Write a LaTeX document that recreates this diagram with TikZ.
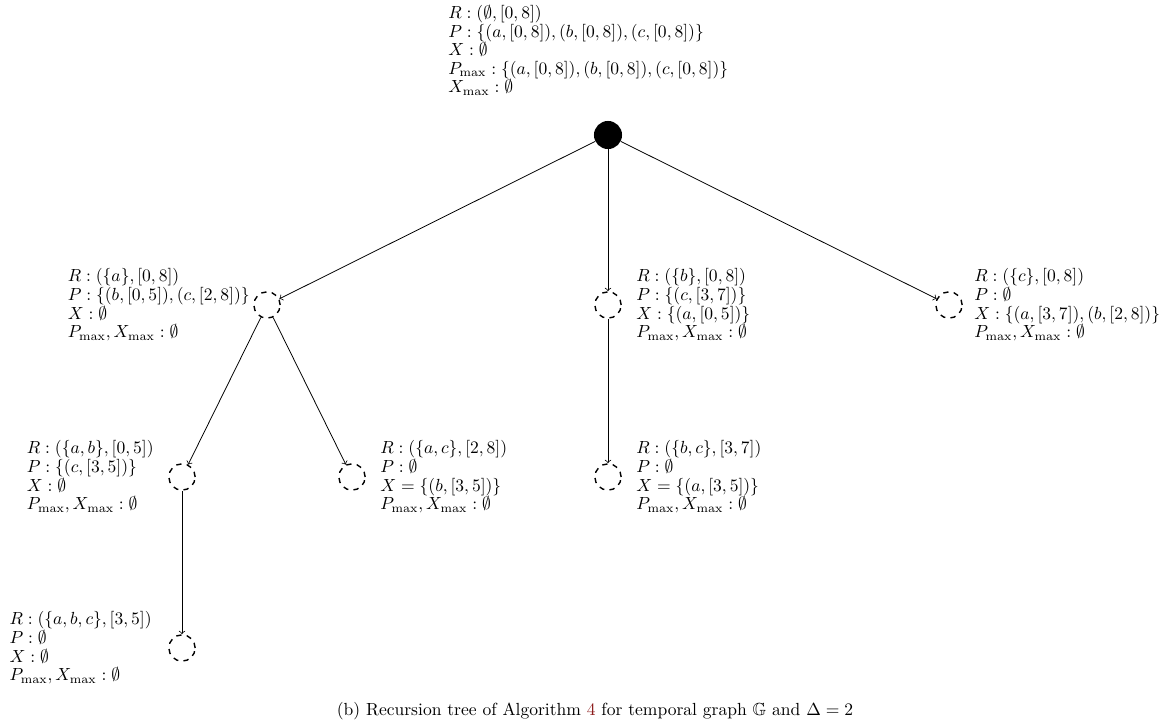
\documentclass[tikz,border=0pt]{standalone}
\usepackage{amsmath,amssymb}
\usetikzlibrary{calc}

\begin{document}
\begin{tikzpicture}[x=0.57pt, y=-0.57pt,
    vertex/.style={circle, draw, thick, dashed, minimum size=15pt, inner sep=0pt},
    info/.style={align=left, inner sep=0pt, font=\fontsize{10}{10.6}\selectfont},
    edge/.style={->, line width=0.45pt}]
    % Define colors
    \definecolor{linkColour}{HTML}{8B1A1A}

    % Fix picture size
    \useasboundingbox (0,0) rectangle (1175,726);

    % Draw vertices of the recursion tree
    \node[circle, fill, minimum size=16pt, inner sep=0pt] (root) at (608,135) {};
    \node[vertex] (a) at (267,305) {};
    \node[vertex] (b) at (608,305) {};
    \node[vertex] (c) at (949,305) {};
    \node[vertex] (ab) at (182,477) {};
    \node[vertex] (ac) at (352,477) {};
    \node[vertex] (bc) at (608,477) {};
    \node[vertex] (abc) at (182,648) {};

    % Draw edges
    \draw[edge] (root) -- (a);
    \draw[edge] (root) -- (b);
    \draw[edge] (root) -- (c);
    \draw[edge] (a) -- (ab);
    \draw[edge] (a) -- (ac);
    \draw[edge] (b) -- (bc);
    \draw[edge] (ab) -- (abc);

    % Label vertices
    \node[info, anchor=north west] (lroot) at (448,5) {$R : (\emptyset, [0,8])$\\
        $P : \{(a,[0,8]),(b,[0,8]),(c,[0,8])\}$\\
        $X : \emptyset$\\
        $P_{\max} : \{(a,[0,8]),(b,[0,8]),(c,[0,8])\}$\\
        $X_{\max} : \emptyset$};
    \node[info, anchor=east] (la) at ($(a)+(-17,0)$) {$R : (\{a\},[0,8])$\\
        $P : \{(b,[0,5]),(c,[2,8])\}$\\
        $X : \emptyset$\\
        $P_{\max}, X_{\max} : \emptyset$};
    \node[info, anchor=west] (lb) at ($(b)+(28,0)$) {$R : (\{b\},[0,8])$\\
        $P : \{(c,[3,7])\}$\\
        $X : \{(a,[0,5])\}$\\
        $P_{\max}, X_{\max} : \emptyset$};
    \node[info, anchor=west] (lc) at ($(c)+(25,0)$) {$R : (\{c\},[0,8])$\\
        $P : \emptyset$\\
        $X : \{(a,[3,7]),(b,[2,8])\}$\\
        $P_{\max}, X_{\max} : \emptyset$};
    \node[info, anchor=east] (lab) at ($(ab)+(-28,0)$) {$R : (\{a,b\},[0,5])$\\
        $P : \{(c,[3,5])\}$\\
        $X : \emptyset$\\
        $P_{\max}, X_{\max} : \emptyset$};
    \node[info, anchor=west] (lac) at ($(ac)+(28,0)$) {$R : (\{a,c\},[2,8])$\\
        $P : \emptyset$\\
        $X = \{(b,[3,5])\}$\\
        $P_{\max}, X_{\max} : \emptyset$};
    \node[info, anchor=west] (lbc) at ($(bc)+(28,0)$) {$R : (\{b,c\},[3,7])$\\
        $P : \emptyset$\\
        $X = \{(a,[3,5])\}$\\
        $P_{\max}, X_{\max} : \emptyset$};
    \node[info, anchor=east] (labc) at ($(abc)+(-30,0)$) {$R : (\{a,b,c\},[3,5])$\\
        $P : \emptyset$\\
        $X : \emptyset$\\
        $P_{\max}, X_{\max} : \emptyset$};

    % Caption
    \node (caption) at (595,711) {(b) Recursion tree of Algorithm \textcolor{linkColour}{4} for temporal graph $\mathbb{G}$ and $\Delta = 2$};
\end{tikzpicture}
\end{document}
